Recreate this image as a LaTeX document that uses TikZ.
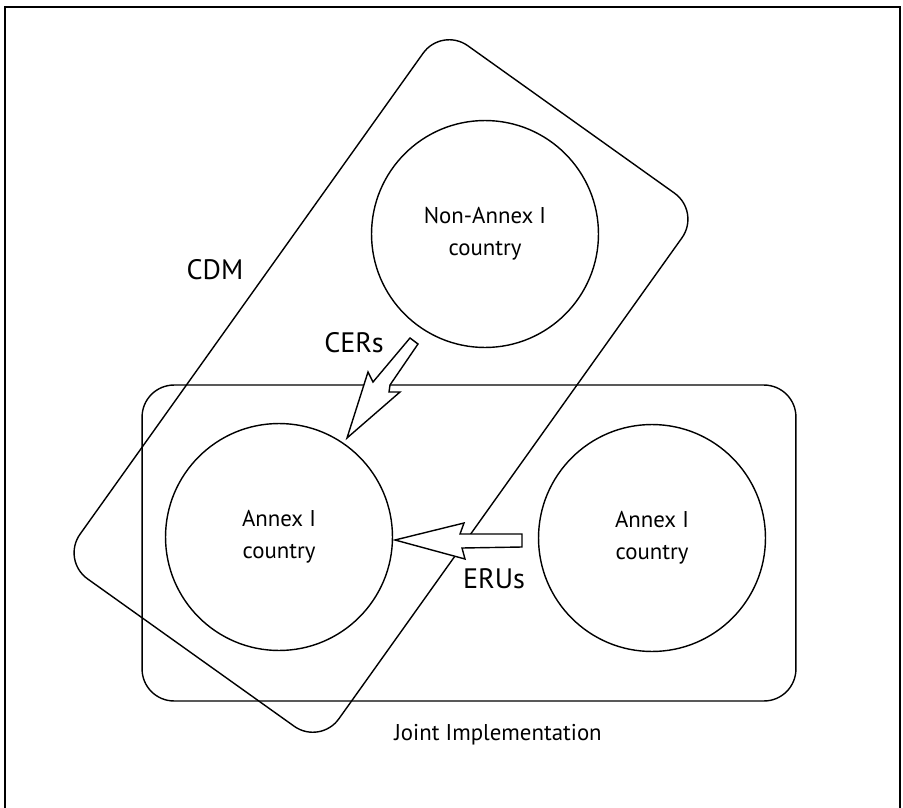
\documentclass[tikz,border=0pt]{standalone}
\usepackage{fontspec}
\setmainfont{PT Sans}
\begin{document}
\begin{tikzpicture}[x=0.02cm, y=-0.02cm, line width=0.8pt,
    country/.style={circle, draw, minimum size=4.54cm, align=center, font=\fontsize{13}{18}\selectfont},
    scheme/.style={draw, rounded corners=0.64cm, inner sep=0pt},
    credit/.style={font=\fontsize{16}{18}\selectfont},
    unitarrow/.style={draw, fill=white, line join=miter}]
  \useasboundingbox (0, 0) rectangle (903, 808);
  \draw [line width=1.5pt] (5, 808) -- (5, 7) -- (900, 7) -- (900, 808);
  \node (cdm) [scheme, minimum width=6.36cm, minimum height=13.1cm, rotate=-35.5] at (381, 386) {};
  \node (ji) [scheme, minimum width=13.08cm, minimum height=6.32cm] at (469, 543) {};
  \node (host) [country] at (485, 234) {Non-Annex I\\country};
  \node (buyer) [country] at (279, 537) {Annex I\\country};
  \node (seller) [country] at (652, 538) {Annex I\\country};
  \node (cdmlabel) at (215, 270) {\fontsize{16}{18}\selectfont CDM};
  \node (cers) [credit] at (354, 343) {CERs};
  \node (erus) [credit] at (494, 579) {ERUs};
  \node (jilabel) [font=\fontsize{13}{15}\selectfont] at (498, 735) {Joint Implementation};
  \draw [unitarrow] (410, 338) -- (418, 344) -- (390, 385) -- (389, 392) -- (400, 392) -- (347, 438) -- (368, 372) -- (373, 382) -- cycle;
  \draw [unitarrow] (395, 540) -- (464, 523) -- (460, 534) -- (522, 534) -- (522, 547) -- (462, 548) -- (465, 559) -- cycle;
\end{tikzpicture}
\end{document}
